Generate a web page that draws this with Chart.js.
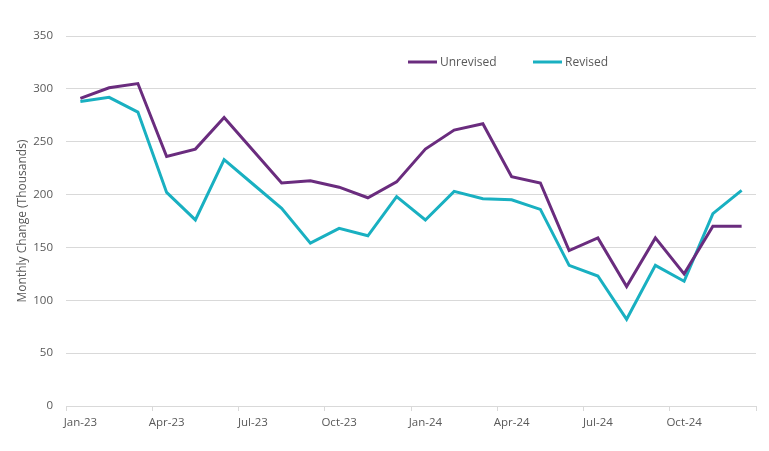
<!DOCTYPE html>
<html lang="en">
<head>
  <meta charset="UTF-8" />
  <title>Monthly Change</title>
  <script src="https://cdn.jsdelivr.net/npm/chart.js"></script>
  <style>
    * { box-sizing: border-box; }
    body { margin: 0; padding: 0; background: #ffffff; }
    #wrap { width: 769px; height: 451px; position: relative; }
  </style>
</head>
<body>
  <div id="wrap"><canvas id="chart"></canvas></div>

  <script>
    const months = [
      'Jan-23', 'Feb-23', 'Mar-23', 'Apr-23', 'May-23', 'Jun-23',
      'Jul-23', 'Aug-23', 'Sep-23', 'Oct-23', 'Nov-23', 'Dec-23',
      'Jan-24', 'Feb-24', 'Mar-24', 'Apr-24', 'May-24', 'Jun-24',
      'Jul-24', 'Aug-24', 'Sep-24', 'Oct-24', 'Nov-24', 'Dec-24'
    ];
    const unrevised = [291, 301, 305, 236, 243, 273, 242, 211, 213, 207, 197, 212,
                       243, 261, 267, 217, 211, 147, 159, 113, 159, 125, 170, 170];
    const revised = [288, 292, 278, 202, 176, 233, 210, 187, 154, 168, 161, 198,
                     176, 203, 196, 195, 186, 133, 123, 82, 133, 118, 182, 204];

    const gray = '#595959';
    const gridGray = '#d9d9d9';
    const fontFamily = '"Open Sans", sans-serif';

    // legend drawn inside the plot, like the original
    const innerLegend = {
      id: 'innerLegend',
      afterDraw(chart) {
        const ctx = chart.ctx;
        const spots = [408, 533];
        ctx.save();
        ctx.font = '12px ' + fontFamily;
        ctx.textBaseline = 'middle';
        chart.data.datasets.forEach((ds, i) => {
          const x = spots[i], y = 62;
          ctx.strokeStyle = ds.borderColor;
          ctx.lineWidth = 3;
          ctx.beginPath();
          ctx.moveTo(x, y);
          ctx.lineTo(x + 29, y);
          ctx.stroke();
          ctx.fillStyle = gray;
          ctx.fillText(ds.label, x + 32, y + 1);
        });
        ctx.restore();
      }
    };

    new Chart(document.getElementById('chart'), {
      type: 'line',
      data: {
        labels: months,
        datasets: [
          { label: 'Unrevised', data: unrevised, borderColor: '#6a2c7e', borderWidth: 3,
            pointRadius: 0, tension: 0, fill: false },
          { label: 'Revised', data: revised, borderColor: '#19b0c1', borderWidth: 3,
            pointRadius: 0, tension: 0, fill: false }
        ]
      },
      options: {
        responsive: true,
        maintainAspectRatio: false,
        animation: false,
        layout: { padding: { top: 36, right: 13, bottom: 0, left: 0 } },
        plugins: {
          legend: { display: false },
          tooltip: { enabled: false }
        },
        scales: {
          x: {
            offset: true,
            afterFit: s => { s.height = 45; },
            grid: {
              offset: true,
              drawOnChartArea: false,
              drawTicks: true,
              tickLength: 5,
              tickColor: c => (c.index === undefined || c.index % 3 === 0) ? gridGray : 'rgba(0,0,0,0)'
            },
            border: { color: gridGray },
            ticks: {
              autoSkip: false,
              maxRotation: 0,
              padding: 5,
              color: gray,
              font: { family: fontFamily, size: 11.5 },
              callback: (v, i) => i % 3 === 0 ? months[i] : ''
            }
          },
          y: {
            min: 0,
            max: 350,
            afterFit: s => { s.width = 66; },
            ticks: {
              stepSize: 50,
              padding: 13,
              color: gray,
              font: { family: fontFamily, size: 11.5 }
            },
            grid: { color: gridGray, drawTicks: false },
            border: { display: false },
            title: {
              display: true,
              text: 'Monthly Change (Thousands)',
              color: gray,
              font: { family: fontFamily, size: 12 },
              padding: { top: 15, bottom: 0 }
            }
          }
        }
      },
      plugins: [innerLegend]
    });
  </script>
</body>
</html>
